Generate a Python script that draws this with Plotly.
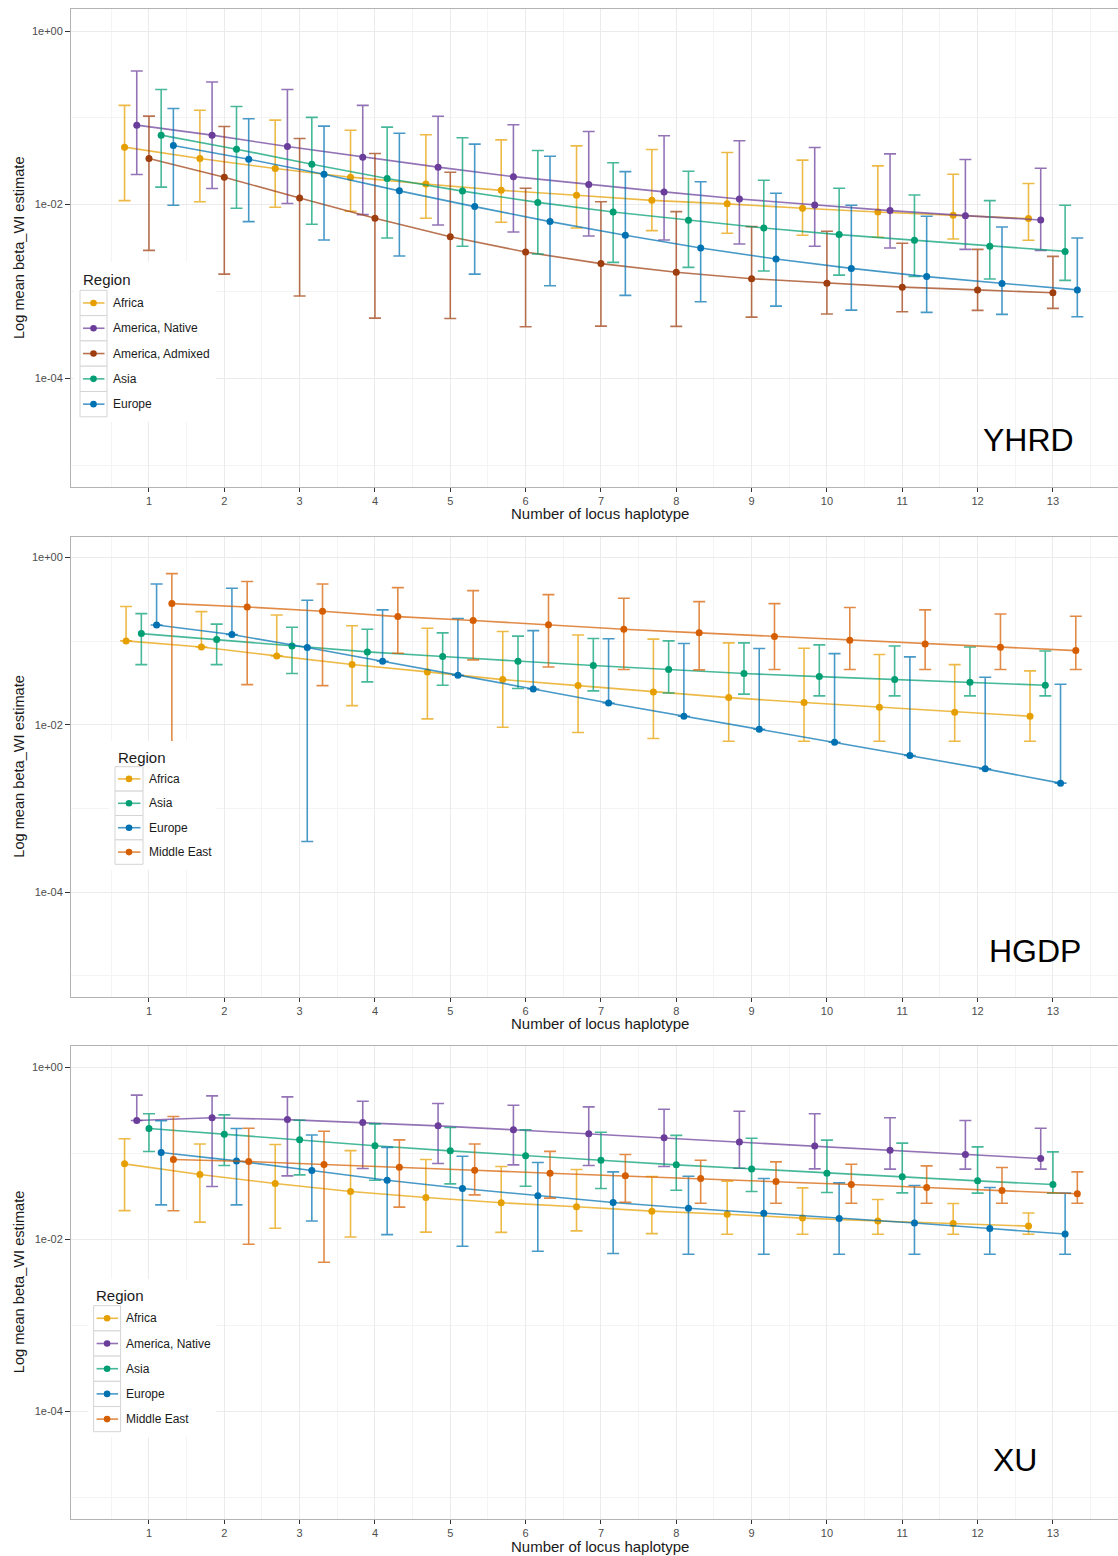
import plotly.graph_objects as go

# ---------------- data ----------------
loci = list(range(1, 14))
y_tick_vals = [1, 1e-2, 1e-4]
y_tick_text = ["1e+00", "1e-02", "1e-04"]
y_minor_vals = [1e-1, 1e-3, 1e-5]
x_minor_vals = [k + 0.5 for k in range(0, 14)]

regions_yhrd = ["Africa", "America, Native", "America, Admixed", "Asia", "Europe"]
regions_hgdp = ["Africa", "Asia", "Europe", "Middle East"]
regions_xu = ["Africa", "America, Native", "Asia", "Europe", "Middle East"]

# YHRD
yhrd_africa = [0.0459, 0.0340, 0.0260, 0.0207, 0.0173, 0.0146, 0.0128, 0.0112, 0.0102, 0.00907, 0.00823, 0.00753, 0.00690]
yhrd_africa_hi = [0.139, 0.122, 0.094, 0.072, 0.0637, 0.0557, 0.0475, 0.0431, 0.0398, 0.0325, 0.0279, 0.0224, 0.0175]
yhrd_africa_lo = [0.0111, 0.0108, 0.00932, 0.00838, 0.00696, 0.00625, 0.00538, 0.00501, 0.00467, 0.00443, 0.00420, 0.00402, 0.00388]

yhrd_amnat = [0.0823, 0.0631, 0.0467, 0.0352, 0.0270, 0.0210, 0.0170, 0.0140, 0.0116, 0.00991, 0.00853, 0.00746, 0.00665]
yhrd_amnat_hi = [0.346, 0.258, 0.212, 0.139, 0.104, 0.0830, 0.0696, 0.0620, 0.0543, 0.0455, 0.0384, 0.0331, 0.0262]
yhrd_amnat_lo = [0.0222, 0.0153, 0.0103, 0.00767, 0.00583, 0.00484, 0.00435, 0.00391, 0.00352, 0.00331, 0.00316, 0.00305, 0.00297]

yhrd_admix = [0.0340, 0.0207, 0.0119, 0.00696, 0.00427, 0.00284, 0.00209, 0.00166, 0.00140, 0.00124, 0.00112, 0.00104, 0.000965]
yhrd_admix_hi = [0.1045, 0.0794, 0.0577, 0.0388, 0.0236, 0.0154, 0.0108, 0.0083, 0.00557, 0.00493, 0.00358, 0.00305, 0.00253]
yhrd_admix_lo = [0.00297, 0.00158, 0.000884, 0.000492, 0.000488, 0.000391, 0.000398, 0.000395, 0.000506, 0.000548, 0.000583, 0.000604, 0.000637]

yhrd_asia = [0.0631, 0.0435, 0.0292, 0.0200, 0.0143, 0.0106, 0.00823, 0.00659, 0.00538, 0.00451, 0.00388, 0.00331, 0.00289]
yhrd_asia_hi = [0.212, 0.135, 0.101, 0.078, 0.0588, 0.0420, 0.0303, 0.0242, 0.0191, 0.0154, 0.0129, 0.0111, 0.00982]
yhrd_asia_lo = [0.0159, 0.00907, 0.00593, 0.00412, 0.00331, 0.00270, 0.00216, 0.00189, 0.00172, 0.00154, 0.00149, 0.00139, 0.00134]

yhrd_europe = [0.0479, 0.0333, 0.0224, 0.0144, 0.00948, 0.00637, 0.00443, 0.00316, 0.00236, 0.00184, 0.00148, 0.00123, 0.00104]
yhrd_europe_hi = [0.128, 0.0974, 0.0801, 0.0665, 0.0497, 0.0361, 0.0240, 0.0183, 0.0135, 0.00982, 0.00733, 0.00553, 0.00412]
yhrd_europe_lo = [0.00982, 0.00637, 0.00391, 0.00256, 0.00158, 0.00116, 0.000899, 0.000760, 0.000677, 0.000609, 0.000573, 0.000543, 0.000510]

# HGDP
hgdp_africa = [0.1009, 0.0855, 0.0668, 0.0526, 0.0430, 0.0348, 0.0295, 0.0248, 0.0212, 0.0185, 0.0163, 0.0142, 0.0127]
hgdp_africa_hi = [0.260, 0.226, 0.206, 0.153, 0.143, 0.131, 0.119, 0.106, 0.0955, 0.0825, 0.0693, 0.0526, 0.0442]
hgdp_africa_lo = [0.1009, 0.0855, 0.0668, 0.0170, 0.0118, 0.00938, 0.00810, 0.00687, 0.00638, 0.00638, 0.00638, 0.00638, 0.00638]

hgdp_asia = [0.1235, 0.1047, 0.0879, 0.0746, 0.0656, 0.0577, 0.0512, 0.0459, 0.0411, 0.0378, 0.0348, 0.0324, 0.0298]
hgdp_asia_hi = [0.214, 0.160, 0.147, 0.139, 0.126, 0.115, 0.108, 0.101, 0.0955, 0.0904, 0.0879, 0.0855, 0.0766]
hgdp_asia_lo = [0.0526, 0.0526, 0.0411, 0.0327, 0.0298, 0.0272, 0.0255, 0.0241, 0.0233, 0.0222, 0.0222, 0.0222, 0.0222]

hgdp_europe = [0.1567, 0.1202, 0.0840, 0.0577, 0.0392, 0.0269, 0.0183, 0.0127, 0.00888, 0.00621, 0.00430, 0.00298, 0.00201]
hgdp_europe_hi = [0.484, 0.430, 0.309, 0.237, 0.187, 0.134, 0.107, 0.0938, 0.0818, 0.0712, 0.0650, 0.0371, 0.0306]
hgdp_europe_lo = [0.1567, 0.1202, 0.000403, 0.0577, 0.0392, 0.0269, 0.0183, 0.0127, 0.00888, 0.00621, 0.00430, 0.00298, 0.00201]

hgdp_mideast = [0.282, 0.257, 0.228, 0.197, 0.177, 0.157, 0.139, 0.126, 0.114, 0.103, 0.0929, 0.0848, 0.0773]
hgdp_mideast_hi = [0.644, 0.517, 0.484, 0.438, 0.403, 0.361, 0.327, 0.298, 0.282, 0.253, 0.237, 0.212, 0.199]
hgdp_mideast_lo = [0.00621, 0.0303, 0.0295, 0.0719, 0.0598, 0.0493, 0.0459, 0.0455, 0.0459, 0.0459, 0.0459, 0.0459, 0.0459]

# XU
xu_africa = [0.0752, 0.0565, 0.0444, 0.0358, 0.0305, 0.0265, 0.0238, 0.0212, 0.0195, 0.0176, 0.0163, 0.0152, 0.0142]
xu_africa_hi = [0.147, 0.128, 0.126, 0.107, 0.0844, 0.0700, 0.0646, 0.0536, 0.0473, 0.0395, 0.0289, 0.0260, 0.0202]
xu_africa_lo = [0.0215, 0.0158, 0.0134, 0.0106, 0.0121, 0.0120, 0.0125, 0.0116, 0.0114, 0.0114, 0.0114, 0.0114, 0.0114]

xu_amnat = [0.240, 0.258, 0.246, 0.227, 0.208, 0.187, 0.168, 0.151, 0.135, 0.121, 0.108, 0.0965, 0.0867]
xu_amnat_hi = [0.473, 0.464, 0.452, 0.402, 0.378, 0.361, 0.346, 0.325, 0.308, 0.287, 0.258, 0.240, 0.195]
xu_amnat_lo = [0.240, 0.0410, 0.0545, 0.0663, 0.0758, 0.0732, 0.0719, 0.0700, 0.0669, 0.0657, 0.0652, 0.0652, 0.0652]

xu_asia = [0.194, 0.166, 0.143, 0.122, 0.1065, 0.0931, 0.0829, 0.0732, 0.0657, 0.0585, 0.0531, 0.0477, 0.0432]
xu_asia_hi = [0.287, 0.279, 0.242, 0.219, 0.199, 0.187, 0.175, 0.161, 0.149, 0.142, 0.131, 0.1185, 0.1036]
xu_asia_lo = [0.1046, 0.0719, 0.0560, 0.0485, 0.0440, 0.0413, 0.0388, 0.0371, 0.0358, 0.0349, 0.0346, 0.0343, 0.0343]

xu_europe = [0.1018, 0.0814, 0.0629, 0.0485, 0.0388, 0.0319, 0.0267, 0.0229, 0.0201, 0.0174, 0.0154, 0.0133, 0.0115]
xu_europe_hi = [0.238, 0.194, 0.163, 0.117, 0.0923, 0.0779, 0.0607, 0.0540, 0.0507, 0.0452, 0.0421, 0.0399, 0.0343]
xu_europe_lo = [0.0251, 0.0251, 0.0163, 0.0113, 0.00829, 0.00725, 0.00681, 0.00669, 0.00669, 0.00669, 0.00669, 0.00669, 0.00669]

xu_mideast = [0.0844, 0.0800, 0.0738, 0.0688, 0.0634, 0.0585, 0.0545, 0.0507, 0.0468, 0.0432, 0.0399, 0.0368, 0.0337]
xu_mideast_hi = [0.267, 0.195, 0.180, 0.143, 0.128, 0.105, 0.0965, 0.0829, 0.0793, 0.0745, 0.0712, 0.0681, 0.0607]
xu_mideast_lo = [0.0214, 0.00875, 0.00540, 0.0236, 0.0328, 0.0300, 0.0269, 0.0262, 0.0262, 0.0262, 0.0262, 0.0262, 0.0262]

# ---------------- style ----------------
colors = {
    "Africa": (230, 159, 0),
    "America, Native": (106, 61, 154),
    "America, Admixed": (158, 61, 14),
    "Asia": (0, 158, 115),
    "Europe": (0, 114, 178),
    "Middle East": (213, 94, 0),
}
LINE_ALPHA = 0.72
FONT = "Liberation Sans, Arial, Helvetica, sans-serif"

W, H = 1118, 1556
ML = 71
PW = W - ML
X_RANGE = [-0.035, 13.864]
DODGE = 0.81


def px(xp):
    return (xp - ML) / PW


def py(yp):
    return 1 - yp / H


def rgba(c, a):
    return "rgba(%d,%d,%d,%.2f)" % (c[0], c[1], c[2], a)


panels = [
    dict(name="YHRD", top=9.3, bottom=486.7, regions=regions_yhrd,
         data={"Africa": (yhrd_africa, yhrd_africa_lo, yhrd_africa_hi),
               "America, Native": (yhrd_amnat, yhrd_amnat_lo, yhrd_amnat_hi),
               "America, Admixed": (yhrd_admix, yhrd_admix_lo, yhrd_admix_hi),
               "Asia": (yhrd_asia, yhrd_asia_lo, yhrd_asia_hi),
               "Europe": (yhrd_europe, yhrd_europe_lo, yhrd_europe_hi)},
         label=(1028, 440), xtitle_y=513.5,
         leg=dict(left=80, top=290.3, row=25.3, w=27, title_x=81, title_y=279, text_x=111,
                  bg=(74, 262, 216, 422))),
    dict(name="HGDP", top=536.7, bottom=996.7, regions=regions_hgdp,
         data={"Africa": (hgdp_africa, hgdp_africa_lo, hgdp_africa_hi),
               "Asia": (hgdp_asia, hgdp_asia_lo, hgdp_asia_hi),
               "Europe": (hgdp_europe, hgdp_europe_lo, hgdp_europe_hi),
               "Middle East": (hgdp_mideast, hgdp_mideast_lo, hgdp_mideast_hi)},
         label=(1035, 950.5), xtitle_y=1023.5,
         leg=dict(left=115, top=766.7, row=24.4, w=28, title_x=116, title_y=757, text_x=146.5,
                  bg=(109, 741, 216, 870))),
    dict(name="XU", top=1045.7, bottom=1518.7, regions=regions_xu,
         data={"Africa": (xu_africa, xu_africa_lo, xu_africa_hi),
               "America, Native": (xu_amnat, xu_amnat_lo, xu_amnat_hi),
               "Asia": (xu_asia, xu_asia_lo, xu_asia_hi),
               "Europe": (xu_europe, xu_europe_lo, xu_europe_hi),
               "Middle East": (xu_mideast, xu_mideast_lo, xu_mideast_hi)},
         label=(1014.6, 1460), xtitle_y=1546,
         leg=dict(left=93.6, top=1305.7, row=25.2, w=27, title_x=94, title_y=1295, text_x=124.3,
                  bg=(88, 1279, 216, 1437))),
]

fig = go.Figure()
layout = dict(
    width=W, height=H,
    margin=dict(l=ML, r=0, t=0, b=0),
    paper_bgcolor="white", plot_bgcolor="white",
    showlegend=False,
    font=dict(family=FONT),
)
shapes = []
annotations = []

for i, p in enumerate(panels):
    idx = "" if i == 0 else str(i + 1)
    xref, yref = "x" + idx, "y" + idx
    n = len(p["regions"])
    step = DODGE / n
    for j, reg in enumerate(p["regions"]):
        mean, lo, hi = p["data"][reg]
        off = (j - (n - 1) / 2) * step
        xs = [k + off for k in loci]
        c = colors[reg]
        fig.add_trace(go.Scatter(
            x=xs, y=mean, mode="lines+markers", name=reg,
            xaxis=xref, yaxis=yref,
            line=dict(color=rgba(c, LINE_ALPHA), width=1.6),
            marker=dict(color=rgba(c, 1), size=7, line=dict(width=0)),
            error_y=dict(type="data", symmetric=False,
                         array=[h - m for h, m in zip(hi, mean)],
                         arrayminus=[m - l for m, l in zip(mean, lo)],
                         color=rgba(c, LINE_ALPHA), thickness=1.6, width=6),
            hoverinfo="skip",
        ))

    ydom = [py(p["bottom"]), py(p["top"])]
    layout["xaxis" + idx] = dict(
        domain=[0, 1], anchor=yref, range=X_RANGE,
        tickmode="array", tickvals=loci, ticktext=[str(k) for k in loci],
        ticks="outside", ticklen=4, tickwidth=1, tickcolor="#333333",
        tickfont=dict(size=11, color="#4D4D4D", family=FONT),
        showgrid=True, gridcolor="#EBEBEB", gridwidth=1,
        minor=dict(tickvals=x_minor_vals, showgrid=True, gridcolor="#F4F4F4",
                   gridwidth=1, ticks=""),
        showline=True, linecolor="#B3B3B3", linewidth=1, mirror=True,
        zeroline=False, fixedrange=True,
    )
    layout["yaxis" + idx] = dict(
        domain=ydom, anchor=xref, type="log", range=[-5.25, 0.25],
        tickmode="array", tickvals=y_tick_vals, ticktext=y_tick_text,
        ticks="outside", ticklen=5, tickwidth=1, tickcolor="#333333",
        tickfont=dict(size=11, color="#4D4D4D", family=FONT),
        showgrid=True, gridcolor="#EBEBEB", gridwidth=1,
        minor=dict(tickvals=y_minor_vals, showgrid=True, gridcolor="#F4F4F4",
                   gridwidth=1, ticks=""),
        showline=True, linecolor="#B3B3B3", linewidth=1, mirror=False,
        zeroline=False, fixedrange=True,
    )

    # axis titles
    annotations.append(dict(
        text="Number of locus haplotype", xref="paper", yref="paper",
        x=px(600), y=py(p["xtitle_y"]), xanchor="center", yanchor="middle",
        showarrow=False, font=dict(size=15, color="#1A1A1A", family=FONT)))
    annotations.append(dict(
        text="Log mean beta_WI estimate", xref="paper", yref="paper",
        x=px(19), y=py((p["top"] + p["bottom"]) / 2), xanchor="center", yanchor="middle",
        textangle=-90, showarrow=False, font=dict(size=14.6, color="#1A1A1A", family=FONT)))
    # panel label
    annotations.append(dict(
        text=p["name"], xref="paper", yref="paper",
        x=px(p["label"][0]), y=py(p["label"][1]), xanchor="center", yanchor="middle",
        showarrow=False, font=dict(size=32, color="#000000", family=FONT)))

    # legend (ggplot-style keys)
    lg = p["leg"]
    bx0, by0, bx1, by1 = lg["bg"]
    shapes.append(dict(type="rect", xref="paper", yref="paper",
                       x0=px(bx0), x1=px(bx1), y0=py(by1), y1=py(by0),
                       fillcolor="white", line=dict(width=0), layer="above"))
    annotations.append(dict(
        text="Region", xref="paper", yref="paper",
        x=px(lg["title_x"]), y=py(lg["title_y"]), xanchor="left", yanchor="middle",
        showarrow=False, font=dict(size=15, color="#1A1A1A", family=FONT)))
    for j, reg in enumerate(p["regions"]):
        c = colors[reg]
        t = lg["top"] + j * lg["row"]
        b = t + lg["row"]
        cy = (t + b) / 2
        l = lg["left"]
        r = l + lg["w"]
        shapes.append(dict(type="rect", xref="paper", yref="paper",
                           x0=px(l), x1=px(r), y0=py(b), y1=py(t),
                           fillcolor="white", line=dict(color="#D4D4D4", width=1),
                           layer="above"))
        shapes.append(dict(type="line", xref="paper", yref="paper",
                           x0=px(l + 3), x1=px(r - 2.5), y0=py(cy), y1=py(cy),
                           line=dict(color=rgba(c, LINE_ALPHA), width=1.6), layer="above"))
        cx = (l + r) / 2
        shapes.append(dict(type="circle", xref="paper", yref="paper",
                           x0=px(cx - 3.3), x1=px(cx + 3.3), y0=py(cy + 3.3), y1=py(cy - 3.3),
                           fillcolor=rgba(c, 1), line=dict(width=0), layer="above"))
        annotations.append(dict(
            text=reg, xref="paper", yref="paper",
            x=px(lg["text_x"]), y=py(cy), xanchor="left", yanchor="middle",
            showarrow=False, font=dict(size=12, color="#1A1A1A", family=FONT)))

layout["shapes"] = shapes
layout["annotations"] = annotations
fig.update_layout(**layout)
fig.write_html("out.html")
